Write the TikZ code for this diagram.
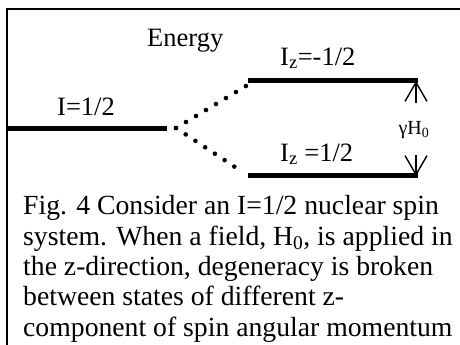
\documentclass[tikz,border=0pt]{standalone}
\usepackage{fontspec}
\setmainfont{Liberation Serif}
\usetikzlibrary{arrows.meta}
\begin{document}
\begin{tikzpicture}[x=1pt,y=-1pt,
  level/.style={line width=5.2pt},
  split/.style={line width=4.6pt,line cap=round,dash pattern=on 0pt off 11.65pt},
  gap/.style={line width=1.4pt,-{Straight Barb[length=19pt,width=22pt,line width=1.4pt]}},
  lbl/.style={inner sep=0pt,anchor=base west,font=\fontsize{26.5}{30}\selectfont},
  captext/.style={inner sep=0pt,anchor=base west,font=\fontsize{27.7}{30}\selectfont}]
\useasboundingbox (0,0) rectangle (460,345);
% frame
\draw[line width=2.4pt] (7,350) -- (7,9) -- (465,9);
% coordinates
\coordinate (a1) at (8,128.5);
\coordinate (a2) at (167,128.5);
\coordinate (s) at (176,128);
\coordinate (u1) at (248,80.5);
\coordinate (u2) at (418,80.5);
\coordinate (l1) at (248,175.5);
\coordinate (l2) at (418,175.5);
\coordinate (ud) at (246,86);
\coordinate (ld) at (244,173);
\coordinate (ua) at (416,103);
\coordinate (ut) at (416,81);
\coordinate (la) at (416,155);
\coordinate (lt) at (416,176);
% levels
\draw[level] (a1) -- (a2);
\draw[level] (u1) -- (u2);
\draw[level] (l1) -- (l2);
\draw[split] (s) -- (ud);
\draw[split] (s) -- (ld);
% arrows
\draw[gap] (ua) -- (ut);
\draw[gap] (la) -- (lt);
% labels
\node[lbl] (energy) at (147,47) {Energy};
\node[lbl] (i) at (57,115) {I=1/2};
\node[lbl] (iu) at (280,65) {I\textsubscript{z}=-1/2};
\node[lbl] (il) at (280,161) {I\textsubscript{z} =1/2};
\node[inner sep=0pt,anchor=base,font=\fontsize{20}{22}\selectfont] (g) at (414,134) {γH\textsubscript{0}};
% caption
\node[captext] (c1) at (23,214) {Fig. 4 Consider an I=1/2 nuclear spin};
\node[captext] (c2) at (23,245) {system. When a field, H\textsubscript{0}, is applied in};
\node[captext] (c3) at (23,275) {the z-direction, degeneracy is broken};
\node[captext] (c4) at (23,305) {between states of different z-};
\node[captext] (c5) at (23,336) {component of spin angular momentum};
\end{tikzpicture}
\end{document}
